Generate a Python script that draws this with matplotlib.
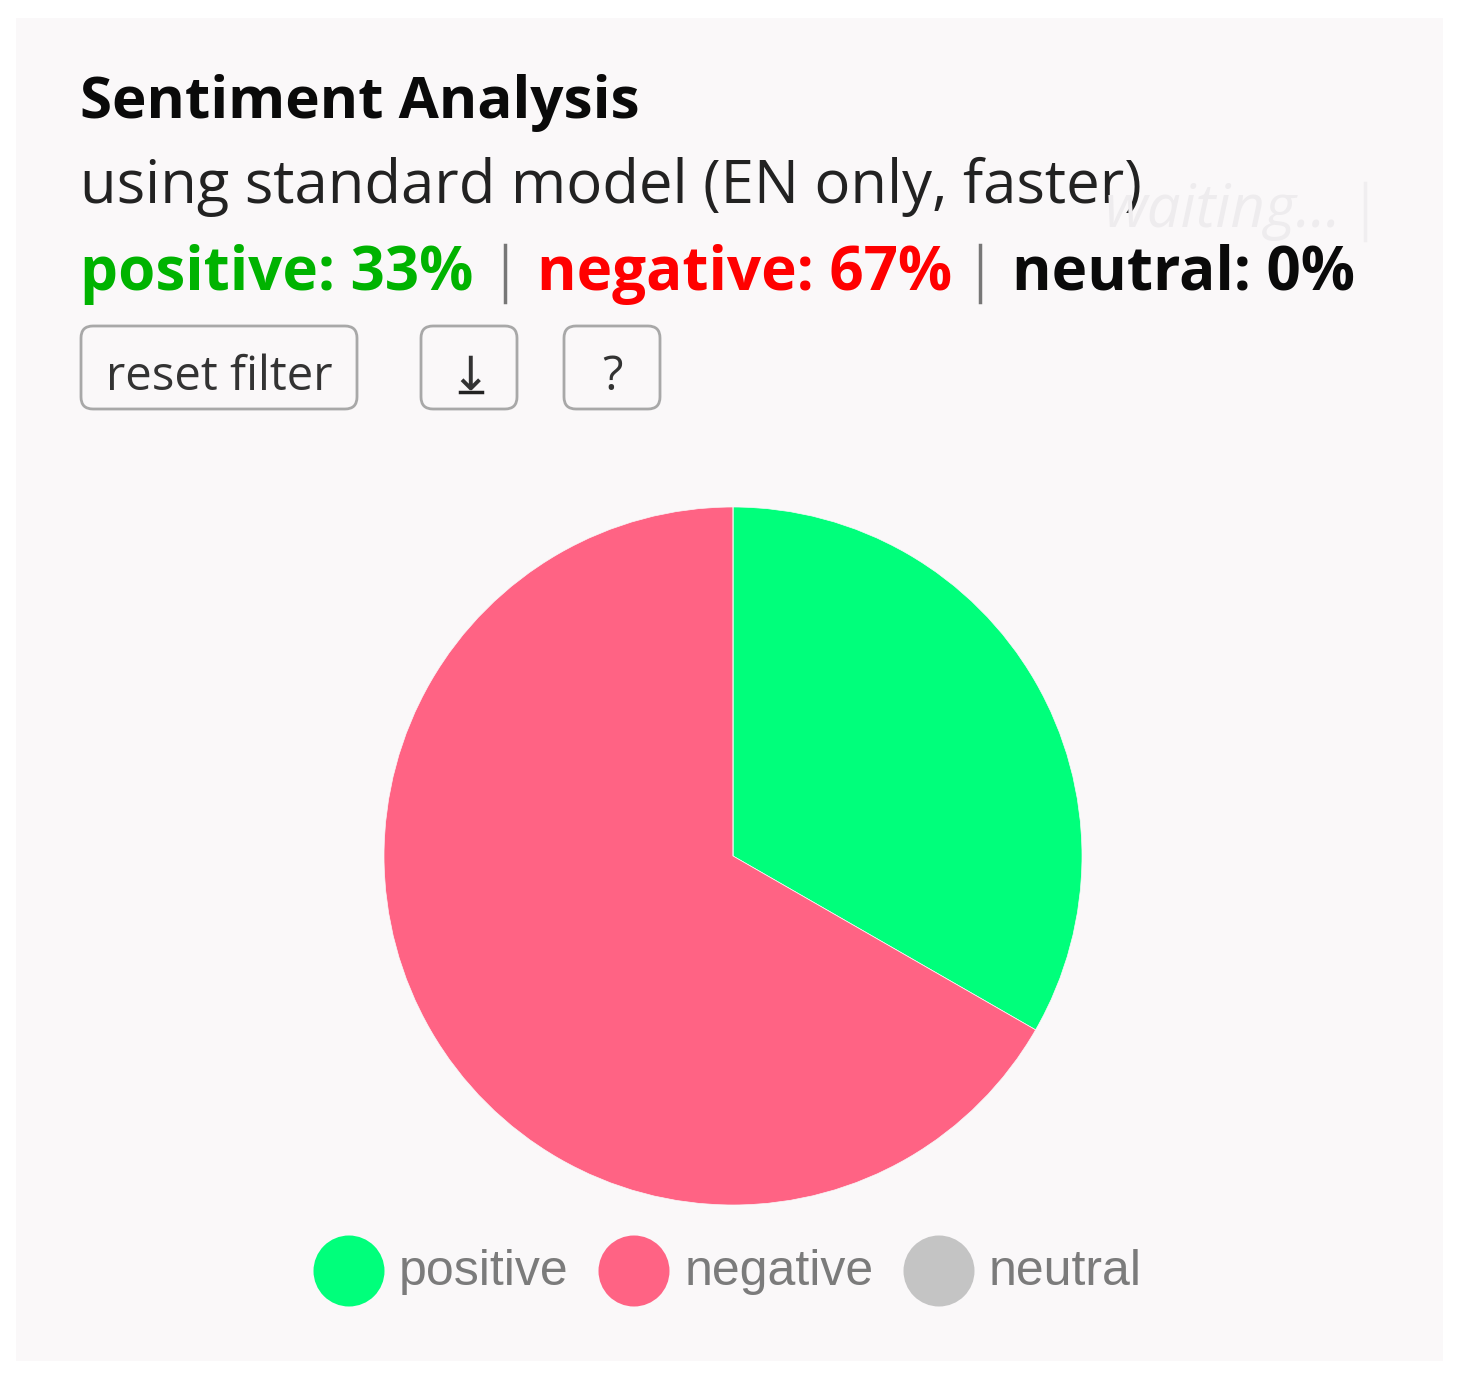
"""Sentiment analysis widget: header text, buttons, pie and legend."""
import matplotlib
matplotlib.use("Agg")
import matplotlib.pyplot as plt
from matplotlib.patches import Circle, FancyBboxPatch, Rectangle

W, H = 1458, 1379

labels = ["positive", "negative", "neutral"]
values = [33.3, 66.7, 0.0]
colors = ["#00ff7b", "#ff6384", "#c4c4c4"]
percents = ["33%", "67%", "0%"]
status_colors = ["#00b300", "#ff0000", "#0a0a0a"]

PANEL = "#faf8f9"
UI_FONT = "Open Sans"

fig = plt.figure(figsize=(W / 100, H / 100), dpi=100, facecolor="white")

# full-figure overlay in pixel coordinates (y down)
bg = fig.add_axes([0, 0, 1, 1])
bg.set_xlim(0, W)
bg.set_ylim(H, 0)
bg.axis("off")
bg.add_patch(Rectangle((16, 18), 1427, 1343, facecolor=PANEL, edgecolor="none"))

bg.text(80, 118, "Sentiment Analysis", fontsize=42, fontweight="bold", color="#0a0a0a",
        family=UI_FONT, va="baseline", ha="left")
bg.text(80, 203, "using standard model (EN only, faster)", fontsize=43, color="#222222",
        family=UI_FONT, va="baseline", ha="left")
bg.text(1105, 227, "waiting...", fontsize=43, fontstyle="italic",
        color="#eeecee", family=UI_FONT, va="baseline", ha="left")
bg.plot([1365, 1365], [183, 240], color="#f0eef0", lw=2.5)

# status line
for x, lab, pct, c in zip([80, 537, 1012], labels, percents, status_colors):
    bg.text(x, 290, f"{lab}: {pct}", fontsize=43.3, fontweight="bold", color=c,
            family=UI_FONT, va="baseline", ha="left")
for x in [505, 980]:
    bg.plot([x, x], [245, 302], color="#777777", lw=2.5)

# buttons
for x0, x1, s in [(81, 357, "reset filter"), (421, 517, ""), (564, 660, "?")]:
    bg.add_patch(FancyBboxPatch((x0, 326), x1 - x0, 83,
                                boxstyle="round,pad=0,rounding_size=12",
                                facecolor="none", edgecolor="#a8a8a8", lw=2))
    bg.text((x0 + x1) / 2, 390, s, fontsize=34, color="#333333",
            family=UI_FONT, va="baseline", ha="center")
bg.text(470, 390, "\u2193", fontsize=34, color="#333333",
        family="DejaVu Sans", va="baseline", ha="center")
bg.plot([460, 482], [392, 392], color="#222222", lw=2.5)

# pie
r = 349
cx, cy = 733, 856
ax = fig.add_axes([(cx - r) / W, 1 - (cy + r) / H, 2 * r / W, 2 * r / H])
ax.pie(values, colors=colors, startangle=90, counterclock=False, radius=1,
       wedgeprops={"linewidth": 0.5, "edgecolor": PANEL})
ax.set_xlim(-1, 1)
ax.set_ylim(-1, 1)

# legend
for lx, tx, lab, col in zip([349, 634, 939], [399, 685, 989], labels, colors):
    bg.add_patch(Circle((lx, 1271), 35.5, facecolor=col, edgecolor="none"))
    bg.text(tx, 1285, lab, fontsize=36, color="#7b7b7b", family="Liberation Sans",
            va="baseline", ha="left")

fig.savefig("out.png", dpi=100, facecolor="white")
